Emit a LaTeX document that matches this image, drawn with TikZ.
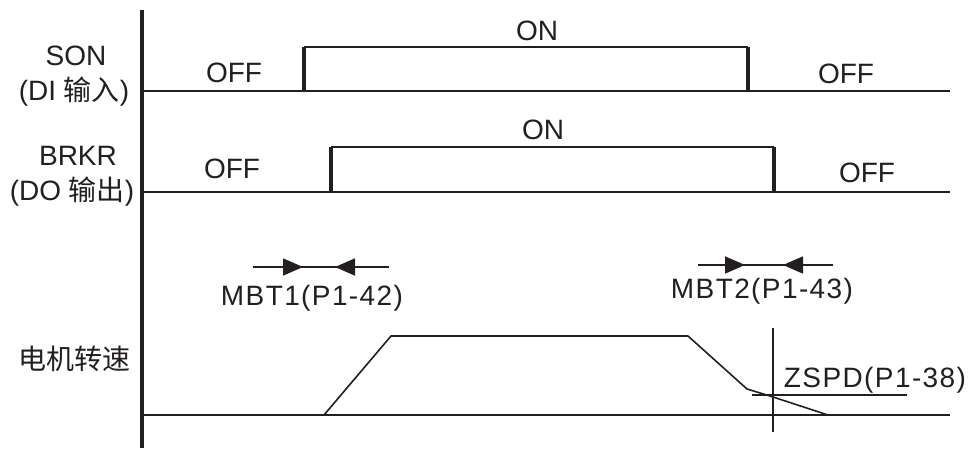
\documentclass[tikz,border=0pt]{standalone}
\usepackage{fontspec}
\setmainfont{Liberation Sans}
\newfontfamily\cjk{Noto Sans CJK SC}
\newfontfamily\spaced[LetterSpace=5]{Liberation Sans}
\usetikzlibrary{arrows.meta}
\definecolor{ink}{HTML}{231F20}
\begin{document}
\begin{tikzpicture}[x=1pt,y=-1pt,
  lbl/.style={font=\fontsize{28}{32}\selectfont, inner sep=0pt, text=ink, anchor=base},
  tlbl/.style={font=\fontsize{28}{32}\spaced, inner sep=0pt, text=ink, anchor=base},
  base/.style={line width=2.2pt, draw=ink},
  edge/.style={line width=3.4pt, draw=ink},
  thin/.style={line width=1.6pt, draw=ink},
  tip/.style={line width=1.6pt, draw=ink, -{Triangle[length=20pt,width=17pt]}}
]
\useasboundingbox (0,0) rectangle (971,448);
% axis
\coordinate (axT) at (142,10);
\coordinate (axB) at (142,448);
\draw[line width=3.2pt, draw=ink] (axT) -- (axB);

% SON
\coordinate (s0) at (142,91);
\coordinate (s1) at (304,91);
\coordinate (s2) at (304,47);
\coordinate (s3) at (748,47);
\coordinate (s4) at (748,91);
\coordinate (s5) at (950,91);
\draw[base] (s0) -- (s5);
\draw[base] (s2) -- (s3);
\draw[edge] (s1) -- (s2);
\draw[edge] (s3) -- (s4);

% BRKR
\coordinate (b0) at (142,192);
\coordinate (b1) at (331,192);
\coordinate (b2) at (331,147);
\coordinate (b3) at (774,147);
\coordinate (b4) at (774,192);
\coordinate (b5) at (950,192);
\draw[base] (b0) -- (b5);
\draw[base] (b2) -- (b3);
\draw[edge] (b1) -- (b2);
\draw[edge] (b3) -- (b4);

% labels
\node[lbl] (son) at (76,65) {SON};
\node[lbl] (sonb) at (74,100) {(DI {\cjk 输入})};
\node[lbl] (brkr) at (78,165) {BRKR};
\node[lbl] (brkrb) at (72,200) {(DO {\cjk 输出})};
\node[lbl] (off1) at (234,82) {OFF};
\node[lbl] (off2) at (232,178) {OFF};
\node[lbl] (on1) at (537,40) {ON};
\node[lbl] (on2) at (543,139) {ON};
\node[lbl] (off3) at (846,83) {OFF};
\node[lbl] (off4) at (867,182) {OFF};

% MBT1
\coordinate (m1a) at (253,267);
\coordinate (m1t) at (303,267);
\coordinate (m1u) at (335,267);
\coordinate (m1b) at (389,267);
\draw[thin] (m1a) -- (m1b);
\draw[tip] (m1a) -- (m1t);
\draw[tip] (m1b) -- (m1u);
\node[tlbl] (mbt1) at (312,305) {MBT1(P1-42)};

% MBT2
\coordinate (m2a) at (698,265);
\coordinate (m2t) at (745,265);
\coordinate (m2u) at (783,265);
\coordinate (m2b) at (833,265);
\draw[thin] (m2a) -- (m2b);
\draw[tip] (m2a) -- (m2t);
\draw[tip] (m2b) -- (m2u);
\node[tlbl] (mbt2) at (762,298) {MBT2(P1-43)};

% motor speed
\node[lbl] (spd) at (74,369) {\cjk 电机转速};
\coordinate (v0) at (142,415);
\coordinate (v7) at (950,415);
\draw[base] (v0) -- (v7);
\coordinate (p1) at (324,415);
\coordinate (p2) at (391,336);
\coordinate (p3) at (688,336);
\coordinate (p4) at (747,389);
\coordinate (p5) at (770,396);
\coordinate (p6) at (828,415);
\draw[thin, line join=round] (p1) -- (p2) -- (p3) -- (p4) -- (p5) -- (p6);
\coordinate (zl) at (752,395);
\coordinate (zr) at (907,395);
\draw[thin] (zl) -- (zr);
\coordinate (vt) at (773,328);
\coordinate (vb) at (773,432);
\draw[thin] (vt) -- (vb);
\node[tlbl] (zspd) at (875,387) {ZSPD(P1-38)};
\end{tikzpicture}
\end{document}
